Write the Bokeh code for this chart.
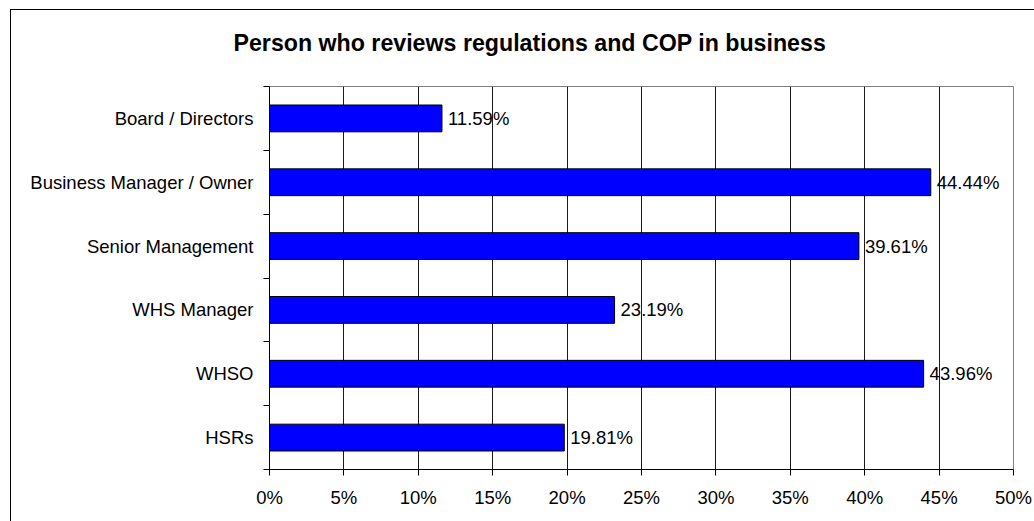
from bokeh.plotting import figure
from bokeh.models import (FixedTicker, PrintfTickFormatter, ColumnDataSource,
                          Range1d, InlineStyleSheet)
from bokeh.core.properties import value
from bokeh.embed import file_html
from bokeh.resources import INLINE

# ---- data ----
categories = ["HSRs", "WHSO", "WHS Manager", "Senior Management",
              "Business Manager / Owner", "Board / Directors"]
percentages = [19.81, 43.96, 23.19, 39.61, 44.44, 11.59]
x_ticks = [0, 5, 10, 15, 20, 25, 30, 35, 40, 45, 50]
title_text = "Person who reviews regulations and COP in business"

FONT = "Liberation Sans"
FS = "18.5px"

ypos = [i + 0.5 for i in range(len(categories))]
src = ColumnDataSource(dict(
    y=ypos, v=percentages, lab=["%.2f%%" % v for v in percentages]))

p = figure(frame_width=744, frame_height=383,
           min_border_left=269, min_border_right=21,
           min_border_top=86, min_border_bottom=52,
           x_range=Range1d(0, 50), y_range=Range1d(0, len(categories)),
           output_backend="svg", toolbar_location=None,
           background_fill_color="white", border_fill_color="white")
p.outline_line_color = "#808080"
p.outline_line_width = 1

# title
p.title.text = title_text
p.title.align = "left"
p.title.offset = -36
p.title.text_font = FONT
p.title.text_font_style = "bold"
p.title.text_font_size = "23.2px"
p.title.text_color = "black"
p.title.vertical_align = "top"
p.title.standoff = 57

# bars
p.hbar(y="y", right="v", left=0, height=0.42, source=src,
       fill_color="#0000FF", line_color="black", line_width=1)

# value labels
p.text(x="v", y="y", text="lab", source=src, x_offset=6,
       text_baseline="middle", text_align="left",
       text_font=value(FONT), text_font_size=FS, text_color="black")

# x axis
xa = p.xaxis[0]
xa.ticker = FixedTicker(ticks=x_ticks)
xa.formatter = PrintfTickFormatter(format="%d%%")
xa.axis_line_color = "black"
xa.major_tick_line_color = "black"
xa.major_tick_out = 6
xa.major_tick_in = 0
xa.minor_tick_line_color = None
xa.major_label_standoff = 11
xa.major_label_text_font = FONT
xa.major_label_text_font_size = FS
xa.major_label_text_color = "black"

# y axis
ya = p.yaxis[0]
ya.ticker = FixedTicker(ticks=ypos, minor_ticks=list(range(len(categories) + 1)))
ya.major_label_overrides = {y: c for y, c in zip(ypos, categories)}
ya.axis_line_color = "black"
ya.major_tick_out = 0
ya.major_tick_in = 0
ya.major_tick_line_color = None
ya.minor_tick_out = 6
ya.minor_tick_in = 0
ya.minor_tick_line_color = "black"
ya.major_label_standoff = 10
ya.major_label_text_font = FONT
ya.major_label_text_font_size = FS
ya.major_label_text_color = "black"

# grid
p.xgrid.ticker = FixedTicker(ticks=x_ticks)
p.xgrid.grid_line_color = "#1a1a1a"
p.xgrid.grid_line_width = 1
p.ygrid.grid_line_color = None

# outer chart-area border (only its top and left edges fall inside the window)
p.stylesheets = [InlineStyleSheet(css="""
:host { position: relative; }
:host::after {
  content: ""; position: absolute; left: 10px; top: 9px; right: 0; bottom: 0;
  border-left: 1px solid black; border-top: 1px solid black;
  pointer-events: none; z-index: 10;
}
""")]

open("out.html", "w").write(file_html(p, INLINE))
